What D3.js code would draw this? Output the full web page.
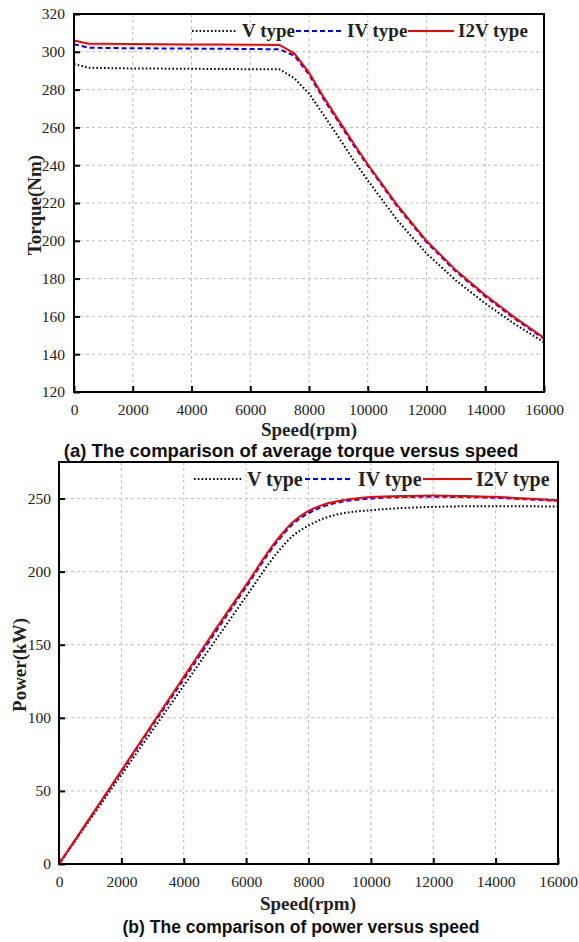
<!DOCTYPE html>
<html><head><meta charset="utf-8">
<script src="https://cdn.jsdelivr.net/npm/d3@7"></script>
<style>
html,body{margin:0;padding:0;background:#fff;}
svg{display:block;}
</style></head>
<body>
<svg id="chart" width="579" height="942"></svg>
<script>
// ---------- data ----------
const seriesNames = ["V type", "IV type", "I2V type"];
const torqueSpeed = [0, 500, 1000, 2000, 3000, 4000, 5000, 6000, 7000, 7500, 8000, 8500, 9000, 9500, 10000, 11000, 12000, 13000, 14000, 15000, 16000];
const torqueV   = [293.5, 291.6, 291.4, 291.2, 291.1, 291.0, 290.9, 290.8, 290.7, 286.0, 278.0, 266.5, 255.0, 243.0, 232.0, 211.0, 193.3, 179.0, 166.9, 156.0, 146.3];
const torqueIV  = [304.0, 302.2, 302.0, 301.9, 301.8, 301.7, 301.6, 301.5, 301.3, 298.0, 288.0, 275.0, 263.0, 251.0, 239.8, 218.3, 199.3, 183.8, 170.6, 158.8, 148.2];
const torqueI2V = [306.0, 304.3, 304.2, 304.1, 304.0, 303.9, 303.8, 303.7, 303.6, 299.2, 289.0, 276.0, 264.0, 252.0, 240.5, 219.0, 200.0, 184.5, 171.3, 159.5, 148.7];

const powerSpeed = [0, 1000, 2000, 3000, 4000, 5000, 6000, 7000, 7500, 8000, 8500, 9000, 10000, 11000, 12000, 13000, 14000, 15000, 16000];
const powerV   = [0, 30.5, 61.0, 91.5, 122.0, 152.5, 183.0, 213.0, 224.5, 231.5, 236.5, 239.5, 242.0, 243.5, 244.3, 244.7, 244.8, 244.7, 244.5];
const powerIV  = [0, 31.6, 63.2, 94.8, 126.4, 158.0, 189.5, 220.5, 232.5, 240.0, 244.8, 247.5, 250.0, 251.0, 251.2, 251.0, 250.5, 249.5, 248.5];
const powerI2V = [0, 32.0, 64.0, 96.0, 128.0, 160.0, 191.0, 222.0, 234.0, 241.5, 246.0, 248.5, 251.0, 251.8, 252.0, 251.8, 251.2, 250.0, 248.8];

const speedTicks = [0, 2000, 4000, 6000, 8000, 10000, 12000, 14000, 16000];
const torqueTicks = [120, 140, 160, 180, 200, 220, 240, 260, 280, 300, 320];
const powerTicks = [0, 50, 100, 150, 200, 250];

const captions = ["(a) The comparison of average torque versus speed", "(b) The comparison of power versus speed"];

// ---------- drawing ----------
const svg = d3.select("#chart");
svg.append("rect").attr("width", 579).attr("height", 942).attr("fill", "#fff");

const SERIF = "'Liberation Serif', 'Times New Roman', serif";
const SANS = "'Liberation Sans', Arial, sans-serif";

const styles = [
  {color: "#000000", dash: "1.6,2.2", width: 2},
  {color: "#0000ff", dash: "5,3", width: 2},
  {color: "#ff0000", dash: null, width: 2}
];

function drawChart(cfg) {
  const x = d3.scaleLinear().domain([0, 16000]).range([cfg.left, cfg.right]);
  const y = d3.scaleLinear().domain(cfg.yDomain).range([cfg.bottom, cfg.top]);
  const g = svg.append("g");

  // grid
  g.append("g").selectAll("line").data(cfg.xTicks.slice(1, -1)).join("line")
    .attr("x1", d => x(d)).attr("x2", d => x(d))
    .attr("y1", cfg.top).attr("y2", cfg.bottom)
    .attr("stroke", "#bdbdbd").attr("stroke-width", 1).attr("stroke-dasharray", "3,3");
  g.append("g").selectAll("line").data(cfg.yTicks.slice(1, -1).concat(cfg.extraGrid || [])).join("line")
    .attr("x1", cfg.left).attr("x2", cfg.right)
    .attr("y1", d => y(d)).attr("y2", d => y(d))
    .attr("stroke", "#bdbdbd").attr("stroke-width", 1).attr("stroke-dasharray", "3,3");

  // axes (ticks inward)
  const xAxis = d3.axisBottom(x).tickValues(cfg.xTicks).tickFormat(d3.format("d")).tickSize(-6).tickPadding(12);
  const yAxis = d3.axisLeft(y).tickValues(cfg.yTicks).tickFormat(d3.format("d")).tickSize(-6).tickPadding(cfg.yPad);
  const gx = g.append("g").attr("transform", `translate(0,${cfg.bottom})`).call(xAxis);
  const gy = g.append("g").attr("transform", `translate(${cfg.left},0)`).call(yAxis);
  [gx, gy].forEach(a => {
    a.attr("font-family", null).attr("font-size", null)
     .style("font-family", SERIF).style("font-size", "15.5px");
    a.select(".domain").remove();
    a.selectAll(".tick line").attr("stroke", "#000").attr("stroke-width", 2);
    a.selectAll(".tick text").style("font-family", SERIF).style("font-size", "15.5px").attr("fill", "#222");
  });
  gx.selectAll(".tick text").attr("dy", "0.71em");

  // lines
  const line = d3.line().x(d => x(d[0])).y(d => y(d[1])).curve(cfg.curve);
  cfg.series.forEach((vals, i) => {
    const pts = cfg.xs.map((s, k) => [s, vals[k]]);
    g.append("path").datum(pts).attr("d", line)
      .attr("fill", "none").attr("stroke", styles[i].color)
      .attr("stroke-width", styles[i].width)
      .attr("stroke-dasharray", styles[i].dash);
  });

  // frame
  g.append("rect").attr("x", cfg.left).attr("y", cfg.top)
    .attr("width", cfg.right - cfg.left).attr("height", cfg.bottom - cfg.top)
    .attr("fill", "none").attr("stroke", "#000").attr("stroke-width", 2);

  // legend
  cfg.legend.forEach((L, i) => {
    g.append("line").attr("x1", L.x1).attr("x2", L.x2).attr("y1", cfg.legY).attr("y2", cfg.legY)
      .attr("stroke", styles[i].color).attr("stroke-width", styles[i].width)
      .attr("stroke-dasharray", styles[i].dash);
    g.append("text").attr("x", L.tx).attr("y", cfg.legY + cfg.legBase)
      .style("font-family", SERIF)
      .attr("font-weight", "bold").attr("font-size", cfg.legFont).attr("fill", "#222")
      .text(seriesNames[i]);
  });

  // axis titles
  g.append("text").attr("x", cfg.xTitleX).attr("y", cfg.xTitleY).attr("text-anchor", "middle")
    .style("font-family", SERIF)
    .attr("font-weight", "bold").attr("font-size", 19).attr("fill", "#222").text("Speed(rpm)");
  g.append("text").attr("transform", `translate(${cfg.yTitleX},${cfg.yTitleY}) rotate(-90)`)
    .attr("text-anchor", "middle")
    .style("font-family", SERIF)
    .attr("font-weight", "bold").attr("font-size", 19).attr("fill", "#222").text(cfg.yTitle);

  // caption
  g.append("text").attr("x", cfg.capX).attr("y", cfg.capY).attr("text-anchor", "middle")
    .style("font-family", SANS)
    .attr("font-weight", "bold").attr("font-size", cfg.capFont).attr("fill", "#111").text(cfg.caption);
}

drawChart({
  left: 74, right: 544, top: 14, bottom: 392,
  yDomain: [120, 320], xTicks: speedTicks, yTicks: torqueTicks, yPad: 9,
  xs: torqueSpeed, series: [torqueV, torqueIV, torqueI2V], curve: d3.curveLinear,
  legY: 31, legBase: 6, legFont: 19,
  legend: [{x1: 192, x2: 237, tx: 242}, {x1: 296, x2: 343, tx: 347}, {x1: 408, x2: 454, tx: 458}],
  xTitleX: 309, xTitleY: 436, yTitleX: 41, yTitleY: 205, yTitle: "Torque(Nm)",
  capX: 291, capY: 457, capFont: 18.5, caption: captions[0]
});

drawChart({
  left: 59, right: 558, top: 462, bottom: 864,
  yDomain: [0, 275], xTicks: speedTicks, yTicks: powerTicks, yPad: 8,
  extraGrid: [250],
  xs: powerSpeed, series: [powerV, powerIV, powerI2V], curve: d3.curveMonotoneX,
  legY: 479, legBase: 6.5, legFont: 20,
  legend: [{x1: 194, x2: 243, tx: 247}, {x1: 305, x2: 353, tx: 358}, {x1: 423, x2: 472, tx: 476}],
  xTitleX: 308, xTitleY: 910, yTitleX: 26, yTitleY: 665, yTitle: "Power(kW)",
  capX: 301, capY: 933, capFont: 17.5, caption: captions[1]
});
</script>
</body></html>
